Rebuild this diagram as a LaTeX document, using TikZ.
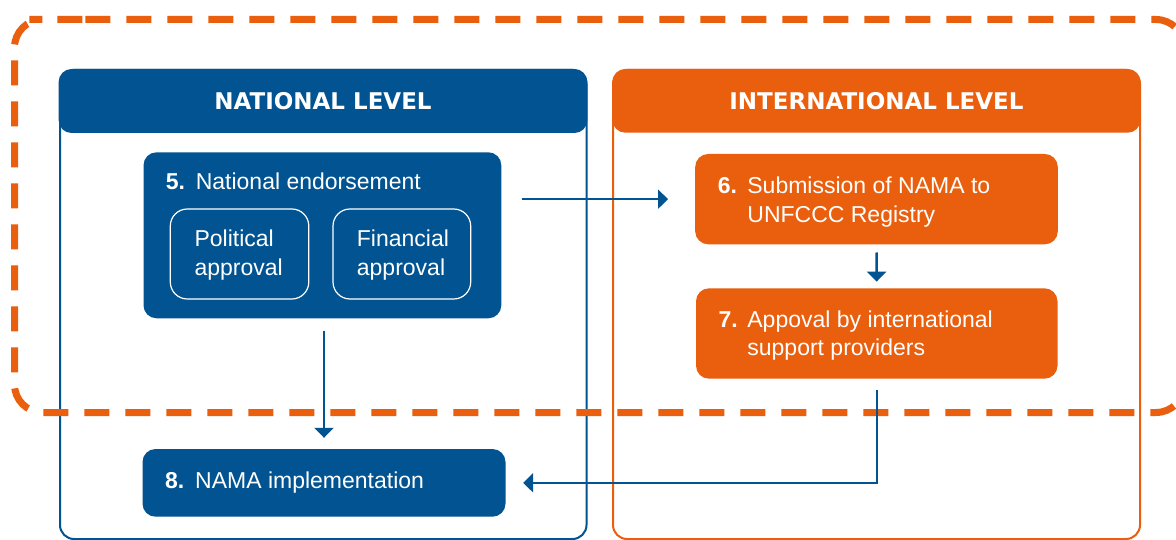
\documentclass[tikz,border=0pt]{standalone}
\usepackage{fontspec}
\setmainfont{Liberation Sans}
\newfontfamily\headfont{DejaVu Sans}
\usetikzlibrary{arrows.meta}
\definecolor{nblue}{RGB}{1,84,145}
\definecolor{iorange}{RGB}{233,95,14}
\begin{document}
\begin{tikzpicture}[x=1pt, y=-1pt,
  panel/.style={line width=2pt, rounded corners=14pt, inner sep=0pt},
  head/.style={rounded corners=13pt, inner sep=0pt, text=white,
    font=\headfont\bfseries\fontsize{23pt}{23pt}\selectfont},
  stepbox/.style={rounded corners=13pt, inner sep=0pt},
  subbox/.style={draw=white, line width=1.2pt, rounded corners=17pt, inner sep=0pt},
  txt/.style={text=white, inner sep=0pt, align=left,
    font=\fontsize{23pt}{28.7pt}\selectfont},
  num/.style={text=white, inner sep=0pt,
    font=\bfseries\fontsize{23pt}{28.7pt}\selectfont},
  arr/.style={draw=nblue, line width=2.5pt, -{Triangle[length=10pt,width=19pt]}},
  dashborder/.style={draw=iorange, line width=7pt, rounded corners=28pt,
    dash pattern=on 25pt off 16pt}]
\useasboundingbox (0,0) rectangle (1176,540);
\fill[white] (0,0) rectangle (1176,540);

% panels
\node[panel, draw=nblue, minimum width=526.5pt, minimum height=469pt] (natpanel) at (323.25,304.5) {};
\node[panel, draw=iorange, minimum width=527pt, minimum height=469pt] (intpanel) at (876.5,304.5) {};
\node[head, fill=nblue, minimum width=528.8pt, minimum height=64pt] (nathead) at (323,101) {NATIONAL LEVEL};
\node[head, fill=iorange, minimum width=528.3pt, minimum height=63.7pt] (inthead) at (876.45,100.85) {INTERNATIONAL LEVEL};

% dashed border
\draw[dashborder] (57.4,19.5) -- (1184,19.5) -- (1184,412.5) -- (14.5,412.5) -- (14.5,19.5) -- cycle;

% step boxes
\node[stepbox, fill=nblue, minimum width=357.8pt, minimum height=166pt] (n5) at (322.4,235.3) {};
\node[subbox, minimum width=138.5pt, minimum height=90pt] (pol) at (239.55,254) {};
\node[subbox, minimum width=137.7pt, minimum height=90pt] (fin) at (401.85,254) {};
\node[stepbox, fill=iorange, minimum width=362.6pt, minimum height=90.3pt] (n6) at (876.5,199.15) {};
\node[stepbox, fill=iorange, minimum width=361.5pt, minimum height=90.4pt] (n7) at (876.75,333.5) {};
\node[stepbox, fill=nblue, minimum width=363pt, minimum height=67.7pt] (n8) at (324,482.85) {};

% texts (base anchor of two-line texts = last line)
\node[num, anchor=base west] (n5num) at (165.7,190) {5.};
\node[txt, anchor=base west] (n5txt) at (195.6,190) {National endorsement};
\node[txt, anchor=base west] (poltxt) at (194.4,275.4) {Political\\approval};
\node[txt, anchor=base west] (fintxt) at (356.7,275.4) {Financial\\approval};
\node[num, anchor=base west] (n6num) at (717.6,194) {6.};
\node[txt, anchor=base west] (n6txt) at (747.2,222.7) {Submission of NAMA to\\UNFCCC Registry};
\node[num, anchor=base west] (n7num) at (718.5,327) {7.};
\node[txt, anchor=base west] (n7txt) at (747.2,355.7) {Appoval by international\\support providers};
\node[num, anchor=base west] (n8num) at (165,488) {8.};
\node[txt, anchor=base west] (n8txt) at (195,488) {NAMA implementation};

% connectors
\draw[arr, shorten <=20pt, shorten >=27pt] (n5.east |- n6.west) -- (n6.west);
\draw[arr, shorten <=8pt, shorten >=6.5pt] (n6.south) -- (n7.north);
\draw[arr, shorten <=12pt, shorten >=11pt] (n8.north |- n5.south) -- (n8.north);
\draw[arr, shorten <=11.5pt, shorten >=17.5pt] (n7.south) |- (n8.east);
\end{tikzpicture}
\end{document}
